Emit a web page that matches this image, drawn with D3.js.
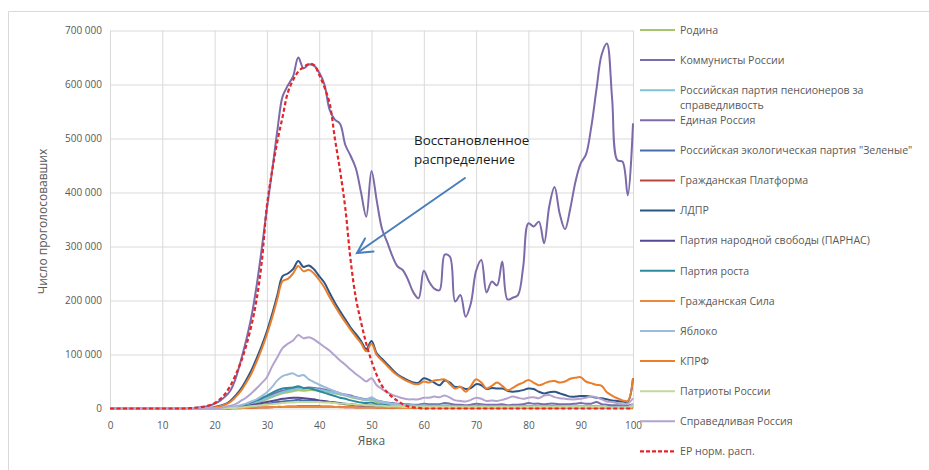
<!DOCTYPE html>
<html lang="ru">
<head>
<meta charset="utf-8">
<script src="https://cdn.jsdelivr.net/npm/d3@7"></script>
<style>
  body { margin: 0; background: #fff; }
  svg { font-family: "Open Sans", sans-serif; }
  .axis text { fill: #595959; font-size: 10px; font-family: "Open Sans", sans-serif; }
  .axis .tick line { stroke: #d9d9d9; }
  .legend text { fill: #595959; font-size: 10.6px; }
  .title { fill: #595959; font-size: 12px; }
  .note { fill: #1a1a1a; font-size: 13.4px; }
</style>
</head>
<body>
<div id="chart"></div>
<script>
// Явка, % (one point per percent)
const turnout = d3.range(0, 101);

// votes per 1% turnout bin, in thousands
const rodina = [
  0,0,0,0,0,0,0,0,0,0,  0,0,0,0,0,0,0,0,0,0,
  0,0,1,1.5,2.5,4,6,8,11,14,  17,21,25,28,30,32,34,33,34,34,
  33,32,30,28,26,24,21,19,17,15,  16,12,10,9,8,7,6,5,5,5,
  5,5,5,4,5,5,4,4,4,4,  5,4,4,4,4,4,4,4,4,4,
  4,4,4,4,4,4,4,3,3,3,  4,4,4,4,3,3,3,3,3,3,  5];
const kommunisty = [
  0,0,0,0,0,0,0,0,0,0,  0,0,0,0,0,0,0,0,0,0,
  0,0,1,2,3,5,7,10,13,17,  21,26,30,33,35,37,39,38,39,38,
  37,35,33,31,28,26,24,21,19,17,  19,15,13,11,10,9,8,8,7,7,
  9,8,8,8,10,9,7,7,6,7,  9,8,7,7,7,8,6,7,7,8,
  10,9,9,8,9,9,8,8,8,9,  10,9,9,12,8,7,6,6,5,5,  8];
const pensionery = [
  0,0,0,0,0,0,0,0,0,0,  0,0,0,0,0,0,0,0,0,0,
  0,0,1,1.5,3,4,6,9,12,15,  19,23,27,30,33,35,37,36,37,36,
  35,33,31,29,27,25,22,20,18,16,  17,14,12,10,9,8,7,6,6,5,
  6,5,5,5,6,5,4,4,4,4,  5,5,4,4,4,4,4,4,4,4,
  5,5,4,4,5,5,4,4,4,4,  4,4,4,5,4,3,3,3,3,3,  6];
const edinayaRossiya = [
  0,0,0,0,0,0,0,0,0,0,  0,0,0,0,0,0.5,1,2,3,5,
  9,14,22,33,55,88,125,168,225,295,  370,440,515,578,598,615,650,630,637,635,
  622,600,553,535,527,488,468,445,400,355,  440,385,333,308,282,263,256,238,215,204,
  255,235,222,219,285,281,198,210,170,195,  255,275,215,235,228,272,202,205,210,262,
  343,337,346,306,375,410,360,332,370,420,  454,470,520,590,655,676,575,460,457,395,  528];
const zelenye = [
  0,0,0,0,0,0,0,0,0,0,  0,0,0,0,0,0,0,0,0,0,
  0,0,0,1,1.5,2,3,4,5,7,  8,10,12,13,14,15,16,15,15,15,
  14,13,12,11,10,9,8,7,6,6,  6,5,4,4,3,3,3,3,2,2,
  3,3,3,2,3,3,2,2,2,2,  3,3,2,2,2,2,2,2,2,2,
  3,2,2,2,2,2,2,2,2,2,  2,2,2,2,2,2,2,1,1,1,  3];
const grPlatforma = [
  0,0,0,0,0,0,0,0,0,0,  0,0,0,0,0,0,0,0,0,0,
  0,0,0,0,0.5,0.5,1,1,1.5,2,  2,2.5,3,3,3.5,3.5,4,4,4,4,
  4,3.5,3.5,3,3,2.5,2.5,2,2,2,  2,1.5,1.5,1,1,1,1,1,1,1,
  1,1,1,1,1,1,1,1,1,1,  1,1,1,1,1,1,1,1,1,1,
  1,1,1,1,1,1,1,1,1,1,  1,1,1,1,1,1,1,1,1,1,  1];
const ldpr = [
  0,0,0,0,0,0,0,0,0,0,  0,0,0,0,0,0,0,0,0.5,1,
  2.5,5,8,14,24,36,52,70,92,116,  143,175,210,245,250,258,273,262,265,258,
  245,233,214,196,180,165,150,138,125,110,  125,102,92,82,72,63,57,52,48,48,
  56,53,48,43,52,48,40,40,36,38,  45,43,36,38,37,37,33,31,32,34,
  37,36,31,28,30,31,28,25,22,22,  23,23,22,20,19,17,15,14,13,13,  56];
const parnas = [
  0,0,0,0,0,0,0,0,0,0,  0,0,0,0,0,0,0,0,0,0,
  0,0,0,1,2,3,4,6,8,10,  12,14,16,18,19,20,20,19,18,17,
  15,14,12,11,9,8,7,6,5,4,  5,3,3,2,2,2,2,2,1,1,
  2,1,1,1,2,1,1,1,1,1,  1,1,1,1,1,1,1,1,1,1,
  1,1,1,1,1,1,1,1,1,1,  1,1,1,1,1,1,1,1,1,1,  2];
const partiyaRosta = [
  0,0,0,0,0,0,0,0,0,0,  0,0,0,0,0,0,0,0,0,0,
  0,0,1,2,3,5,8,11,15,19,  24,29,34,37,38,39,41,38,38,35,
  32,29,26,23,20,18,15,13,11,10,  11,8,7,6,5,4,4,3,3,3,
  3,3,3,3,3,3,2,2,2,2,  3,3,2,2,2,2,2,2,2,2,
  3,3,2,2,3,3,2,2,2,2,  2,2,2,3,2,2,2,2,2,2,  4];
const grSila = [
  0,0,0,0,0,0,0,0,0,0,  0,0,0,0,0,0,0,0,0,0,
  0,0,0,0.5,0.5,1,1,1.5,2,2,  2.5,2.5,3,3,3,3,3,3,3,3,
  3,3,3,3,2.5,2.5,2.5,2,2,2,  2,2,1.5,1.5,1.5,1,1,1,1,1,
  1,1,1,1,1,1,1,1,1,1,  1,1,1,1,1,1,1,1,1,1,
  1,1,1,1,1,1,1,1,1,1,  1,1,1,1,1,1,1,1,1,1,  1];
const yabloko = [
  0,0,0,0,0,0,0,0,0,0,  0,0,0,0,0,0,0,0,0,0,
  0,0,1,2,4,6,9,13,17,23,  30,40,52,60,63,65,60,62,54,49,
  44,40,36,32,28,25,22,20,18,16,  21,15,12,10,8,7,6,5,5,4,
  5,4,4,3,4,4,3,3,3,3,  3,4,3,3,3,3,3,2,2,3,
  3,4,3,3,3,3,3,2,2,2,  2,2,3,3,2,2,2,2,2,2,  8];
const kprf = [
  0,0,0,0,0,0,0,0,0,0,  0,0,0,0,0,0,0,0,0.5,1,
  2,4,7,12,21,32,47,64,86,110,  137,168,203,236,240,250,264,254,257,250,
  238,224,206,190,174,160,146,133,121,106,  120,99,89,79,69,61,55,50,46,45,
  50,48,52,53,54,45,37,40,31,42,  54,48,37,42,48,42,34,38,44,48,
  53,48,43,46,50,51,48,50,55,57,  58,50,47,44,42,30,24,19,15,14,  56];
const patrioty = [
  0,0,0,0,0,0,0,0,0,0,  0,0,0,0,0,0,0,0,0,0,
  0,0,0,1,1,2,3,4,5,6,  7,8,9,10,11,11,12,12,12,12,
  12,11,11,10,9,9,8,7,7,6,  6,5,5,4,4,4,3,3,3,3,
  3,3,3,3,3,3,3,3,3,3,  3,3,3,3,3,3,3,3,3,3,
  3,3,3,3,3,3,3,3,3,3,  3,3,3,3,3,3,2,2,2,2,  4];
const spravRossiya = [
  0,0,0,0,0,0,0,0,0,0,  0,0,0,0,0,0,0,0,0,0,
  0.5,1,3,5,8,14,20,28,37,47,  58,78,95,112,120,126,136,130,132,128,
  121,114,107,98,89,81,72,64,57,50,  56,43,36,30,25,22,19,17,17,17,
  20,20,22,21,24,20,15,14,13,16,  20,18,14,15,14,16,19,22,20,18,
  20,21,19,24,25,21,19,18,17,17,  18,20,22,21,17,13,12,10,8,9,  19];
// "restored" normal distribution for Единая Россия
const erNorm = [
  0,0,0,0,0,0,0,0,0,0,  0,0,0,0,0,0.5,1,2,3.5,6,
  10,17,27,42,62,85,115,152,200,270,  375,440,495,540,585,608,624,632,638,636,
  618,595,565,500,440,370,275,205,160,120,  88,62,42,30,21,14,8,4,2,1,
  0,0,0,0,0,0,0,0,0,0,  0,0,0,0,0,0,0,0,0,0,
  0,0,0,0,0,0,0,0,0,0,  0,0,0,0,0,0,0,0,0,0,  0];

const seriesNames = [
  'Родина', 'Коммунисты России', 'Российская партия пенсионеров за справедливость',
  'Единая Россия', 'Российская экологическая партия "Зеленые"', 'Гражданская Платформа',
  'ЛДПР', 'Партия народной свободы (ПАРНАС)', 'Партия роста', 'Гражданская Сила',
  'Яблоко', 'КПРФ', 'Патриоты России', 'Справедливая Россия', 'ЕР норм. расп.'
];
const seriesValues = [
  rodina, kommunisty, pensionery, edinayaRossiya, zelenye, grPlatforma, ldpr, parnas,
  partiyaRosta, grSila, yabloko, kprf, patrioty, spravRossiya, erNorm
];
const seriesColors = [
  '#a6c46c', '#7b6cab', '#7fc3d9', '#7d6aa9', '#4470b0', '#b8463f', '#2e5586', '#574690',
  '#2d8a9c', '#eb8a3c', '#9ebadb', '#e97f2c', '#c5d89c', '#b3a3cf', '#e3262a'
];

const xTicks = [0, 10, 20, 30, 40, 50, 60, 70, 80, 90, 100];
const yTicks = [0, 100, 200, 300, 400, 500, 600, 700]; // thousands

const labelX = 'Явка';
const labelY = 'Число проголосовавших';
const noteLines = ['Восстановленное', 'распределение'];

// ---- chart ----
const width = 929, height = 470;
const plot = { left: 110, right: 633, top: 30.5, bottom: 408.5 };

const ruFormat = d3.formatLocale({ decimal: ',', thousands: ' ', grouping: [3], currency: ['', ''] }).format(',d');

const svg = d3.select('#chart').append('svg')
  .attr('width', width)
  .attr('height', height);

// outer chart frame (top and left edges visible)
svg.append('path')
  .attr('d', `M8.5,${height} V11.5 H${width}`)
  .attr('fill', 'none')
  .attr('stroke', '#d9d9d9');

const scaleX = d3.scaleLinear([0, 100], [plot.left, plot.right]);
const scaleY = d3.scaleLinear([0, 700], [plot.bottom, plot.top]);

// axes with gridlines
const axisY = svg.append('g')
  .attr('class', 'axis')
  .attr('transform', `translate(${plot.left},0)`)
  .call(d3.axisLeft(scaleY)
    .tickValues(yTicks)
    .tickSize(-(plot.right - plot.left))
    .tickPadding(8)
    .tickFormat(d => ruFormat(d * 1000)));
axisY.select('.domain').remove();

const axisX = svg.append('g')
  .attr('class', 'axis')
  .attr('transform', `translate(0,${plot.bottom})`)
  .call(d3.axisBottom(scaleX)
    .tickValues(xTicks)
    .tickSize(-(plot.bottom - plot.top))
    .tickPadding(13)
    .tickFormat(d3.format('d')));
axisX.select('.domain').remove();

// axis titles
svg.append('text')
  .attr('class', 'title')
  .attr('transform', `translate(47,${(plot.top + plot.bottom) / 2 + 2})rotate(-90)`)
  .attr('text-anchor', 'middle')
  .text(labelY);
svg.append('text')
  .attr('class', 'title')
  .attr('x', (plot.left + plot.right) / 2)
  .attr('y', 445)
  .attr('text-anchor', 'middle')
  .text(labelX);

// lines
const series = seriesNames.map((name, i) => ({
  name, color: seriesColors[i], values: seriesValues[i], dashed: i === seriesNames.length - 1
}));

const line = d3.line()
  .x((d, i) => scaleX(turnout[i]))
  .y(d => scaleY(d))
  .curve(d3.curveCatmullRom.alpha(0.5));

svg.append('g')
  .selectAll('path')
  .data(series)
  .join('path')
  .attr('d', d => line(d.values))
  .attr('fill', 'none')
  .attr('stroke', d => d.color)
  .attr('stroke-width', d => d.dashed ? 2.2 : 2)
  .attr('stroke-dasharray', d => d.dashed ? '4,2.5' : null)
  .attr('stroke-linejoin', 'round');

// annotation
const note = svg.append('text')
  .attr('class', 'note')
  .attr('x', 414)
  .attr('y', 145);
note.selectAll('tspan')
  .data(noteLines)
  .join('tspan')
  .attr('x', 414)
  .attr('dy', (d, i) => i ? 19 : 0)
  .text(d => d);

const arrow = svg.append('g')
  .attr('stroke', '#4a7ebb')
  .attr('stroke-width', 2)
  .attr('fill', 'none')
  .attr('stroke-linecap', 'round');
arrow.append('line')
  .attr('x1', 465).attr('y1', 178)
  .attr('x2', 357).attr('y2', 253);
arrow.append('path')
  .attr('d', 'M365,238.5 L357,253 L373.5,251.5');

// legend
const legend = svg.append('g')
  .attr('class', 'legend')
  .selectAll('g')
  .data(series)
  .join('g')
  .attr('transform', (d, i) => `translate(0,${30 + i * 30.1})`);

legend.append('line')
  .attr('x1', 640).attr('x2', 675)
  .attr('stroke', d => d.color)
  .attr('stroke-width', d => d.dashed ? 2.2 : 2)
  .attr('stroke-dasharray', d => d.dashed ? '4,2' : null);

legend.append('text')
  .attr('x', 680)
  .selectAll('tspan')
  .data(d => d.name === seriesNames[2]
    ? ['Российская партия пенсионеров за', 'справедливость'] : [d.name])
  .join('tspan')
  .attr('x', 680)
  .attr('dy', (d, i) => i ? '1.42em' : '0.35em')
  .text(d => d);
</script>
</body>
</html>
